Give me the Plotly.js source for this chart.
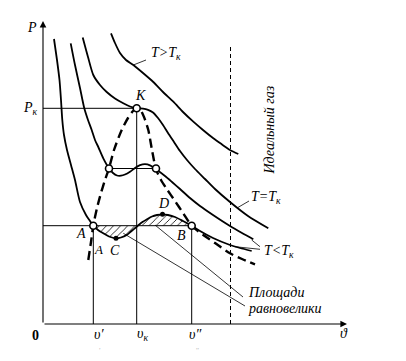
<!DOCTYPE html>
<html><head><meta charset="utf-8">
<script src="https://cdn.plot.ly/plotly-3.0.1.min.js"></script>
<style>html,body{margin:0;padding:0;background:#fff}</style>
</head><body><div id="chart" style="width:406px;height:361px"></div>
<script>
// Van der Waals isotherms: volume v (x) and pressure p (y)
const hotV  = [68, 72, 77, 83, 90.3, 100, 110.3, 120, 130.3, 140, 150.3, 160, 170.3, 179, 187, 195.3];
const hotP  = [290.7, 281, 271, 264, 259, 251, 242, 232, 222.3, 212, 202.3, 194, 185.7, 179.5, 174, 170];

const critV = [39.7, 45, 50.3, 57, 63.7, 72, 80.3, 87, 93.7, 100, 105, 110, 115, 120, 125, 131, 137, 144, 152, 162, 172, 187, 205, 225.3];
const critP = [286.5, 267, 249, 239, 232, 225.5, 220.7, 217.5, 215.7, 215.4, 214.2, 211.5, 206, 199, 191, 182, 173, 164, 155, 145, 135, 122, 108, 95.7];

const sub2V = [27.7, 32, 37, 41.3, 45, 48.7, 52, 55.3, 60.3, 66, 70, 74, 78, 82, 87, 92, 97, 102, 107, 113, 122, 129, 137, 147, 157, 170, 187, 199, 210.3];
const sub2P = [280.7, 259, 236, 215.7, 204, 194, 184, 177, 165.7, 155.7, 151, 148.5, 148.3, 149.5, 152.3, 156, 158.8, 159.8, 158.7, 154.7, 148, 142, 135, 126, 118, 109, 98, 91, 84.7];

const sub1V = [11, 14, 16.5, 18, 19.3, 21, 24, 28, 32, 37, 43, 47, 50.3, 55, 60.3, 66, 73, 78, 83.7, 88, 93.7, 98, 103.7, 109, 114, 119.5, 125, 132, 140, 148.7, 157, 170, 187, 197, 208.7];
const sub1P = [285, 264, 244, 224, 204, 189, 174, 159, 144, 122, 109, 103, 98.3, 94, 90.7, 87.5, 85.7, 86.5, 89, 92.5, 97.3, 101, 104.5, 107.5, 109, 109.7, 109, 107, 103, 98.3, 93, 86, 79, 76, 73];

const domeV = [45.3, 48, 50.3, 54, 58, 62, 66, 71, 78.7, 85, 90, 93.7, 97.5, 101, 105.3, 109, 113, 118, 123.7, 132, 140, 148.7, 160.3, 172, 187, 199, 212];
const domeP = [64, 82, 98.3, 116, 131, 144, 155.7, 174, 194, 206, 213, 215.7, 214, 207, 194, 174, 154.7, 144, 135, 123, 111, 98.3, 89, 81, 70.7, 65, 59.7];

// special states
const pK = 215.7, vK = 93.7;           // critical point K
const pSat = 98.3;                      // A-B saturation line
const vLiq = 50.3, vGas = 148.7;        // v', v''
const pLoop2 = 155.5, vLoop2 = [66, 113];
const vIdeal = 187.5;                   // "ideal gas" boundary
const openV = [vLiq, vGas, vK, vLoop2[0], vLoop2[1]];
const openP = [pSat, pSat, pK, pLoop2, pLoop2];
const dotV = [73, 119.5];               // C, D
const dotP = [85.7, 109.7];

const iA = sub1V.indexOf(vLiq), iB = sub1V.indexOf(vGas);
const hatchV = sub1V.slice(iA, iB + 1), hatchP = sub1P.slice(iA, iB + 1);

const thin = {color: 'black', width: 1};
const curve = {color: 'black', width: 1.8, shape: 'spline', smoothing: 0.7};
function L(x, y, line) { return {x: x, y: y, mode: 'lines', line: line, hoverinfo: 'skip', showlegend: false}; }

const data = [
  {x: hatchV, y: hatchP, mode: 'lines', fill: 'toself', fillcolor: 'rgba(0,0,0,0)',
   fillpattern: {shape: '/', size: 5, solidity: 0.16, fgcolor: 'black', bgcolor: 'rgba(0,0,0,0)'},
   line: {color: 'rgba(0,0,0,0)', width: 0, shape: 'spline', smoothing: 0.7}, showlegend: false, hoverinfo: 'skip'},
  L([0, vK], [pK, pK], thin),
  L([0, vGas], [pSat, pSat], thin),
  L(vLoop2, [pLoop2, pLoop2], thin),
  L([vLiq, vLiq], [0, pSat], thin),
  L([vK, vK], [0, pK], thin),
  L([vGas, vGas], [0, pSat], thin),
  L([vIdeal, vIdeal], [0, 277], {color: 'black', width: 1, dash: '4px,3px'}),
  // leader lines
  L([90.3, 103], [259, 264], {color: 'black', width: 0.8}),
  L([194, 206], [116, 123], {color: 'black', width: 0.8}),
  L([208.7, 217], [84, 77.3], {color: 'black', width: 0.8}),
  L([192, 217], [77.3, 74.7], {color: 'black', width: 0.8}),
  L([112, 200], [99, 27], {color: 'black', width: 0.8}),
  L([80.3, 202], [90.7, 18], {color: 'black', width: 0.8}),
  // isotherms
  L(hotV, hotP, curve),
  L(critV, critP, curve),
  L(sub2V, sub2P, curve),
  L(sub1V, sub1P, curve),
  L(domeV, domeP, {color: 'black', width: 2.4, dash: '9px,5px', shape: 'spline', smoothing: 0.7}),
  {x: dotV, y: dotP, mode: 'markers', marker: {size: 5, color: 'black'}, showlegend: false, hoverinfo: 'skip'},
  {x: openV, y: openP, mode: 'markers', marker: {size: 7, color: 'white', line: {color: 'black', width: 1.6}}, showlegend: false, hoverinfo: 'skip'}
];

const serif = {family: 'Liberation Serif', size: 14, color: 'black'};
function T(x, y, text, extra) {
  return Object.assign({x: x, y: y, xref: 'x', yref: 'y', text: '<i>' + text + '</i>', showarrow: false, font: serif}, extra || {});
}
const annotations = [
  // axes with arrows
  {x: 0, y: 303, ax: 0, ay: 0, xref: 'x', yref: 'y', axref: 'x', ayref: 'y', text: '', showarrow: true, arrowhead: 2, arrowsize: 1.2, arrowwidth: 1.1, arrowcolor: 'black'},
  {x: 304, y: 0, ax: 0, ay: 0, xref: 'x', yref: 'y', axref: 'x', ayref: 'y', text: '', showarrow: true, arrowhead: 2, arrowsize: 1.2, arrowwidth: 1.1, arrowcolor: 'black'},
  T(-11, 297, 'P'),
  T(-13, 216, 'P<sub>к</sub>'),
  T(97, 229, 'K'),
  T(123, 271, 'T&gt;T<sub>к</sub>'),
  T(223, 127, 'T=T<sub>к</sub>'),
  T(236, 73, 'T&lt;T<sub>к</sub>'),
  T(38, 91, 'A'),
  T(55, 75, 'A', {font: Object.assign({}, serif, {size: 13})}),
  T(72, 74, 'C'),
  T(120.3, 121, 'D'),
  T(138, 89, 'B'),
  T(225.5, 194, 'Идеальный газ', {textangle: -90}),
  T(202.5, 32, 'Площади', {xanchor: 'left'}),
  T(202.5, 16, 'равновелики', {xanchor: 'left'}),
  {x: -8, y: -11, xref: 'x', yref: 'y', text: '<b>0</b>', showarrow: false, font: {family: 'Liberation Serif', size: 14, color: 'black'}},
  T(56, -10, 'υ′'),
  T(99, -10, 'υ<sub>к</sub>'),
  T(152, -10, 'υ″'),
  T(57, -23, ',', {font: {family: 'Liberation Serif', size: 6, color: '#aaa'}}),
  T(155, -23, ',,', {font: {family: 'Liberation Serif', size: 6, color: '#aaa'}}),
  T(300.5, -9, 'ϑ')
];

const layout = {
  width: 406, height: 361,
  margin: {l: 0, r: 0, t: 0, b: 0},
  paper_bgcolor: 'white', plot_bgcolor: 'white',
  xaxis: {range: [-43, 363], visible: false, fixedrange: true},
  yaxis: {range: [-37, 324], visible: false, fixedrange: true},
  showlegend: false,
  annotations: annotations
};
Plotly.newPlot('chart', data, layout, {staticPlot: true, displayModeBar: false});
</script>
</body></html>
